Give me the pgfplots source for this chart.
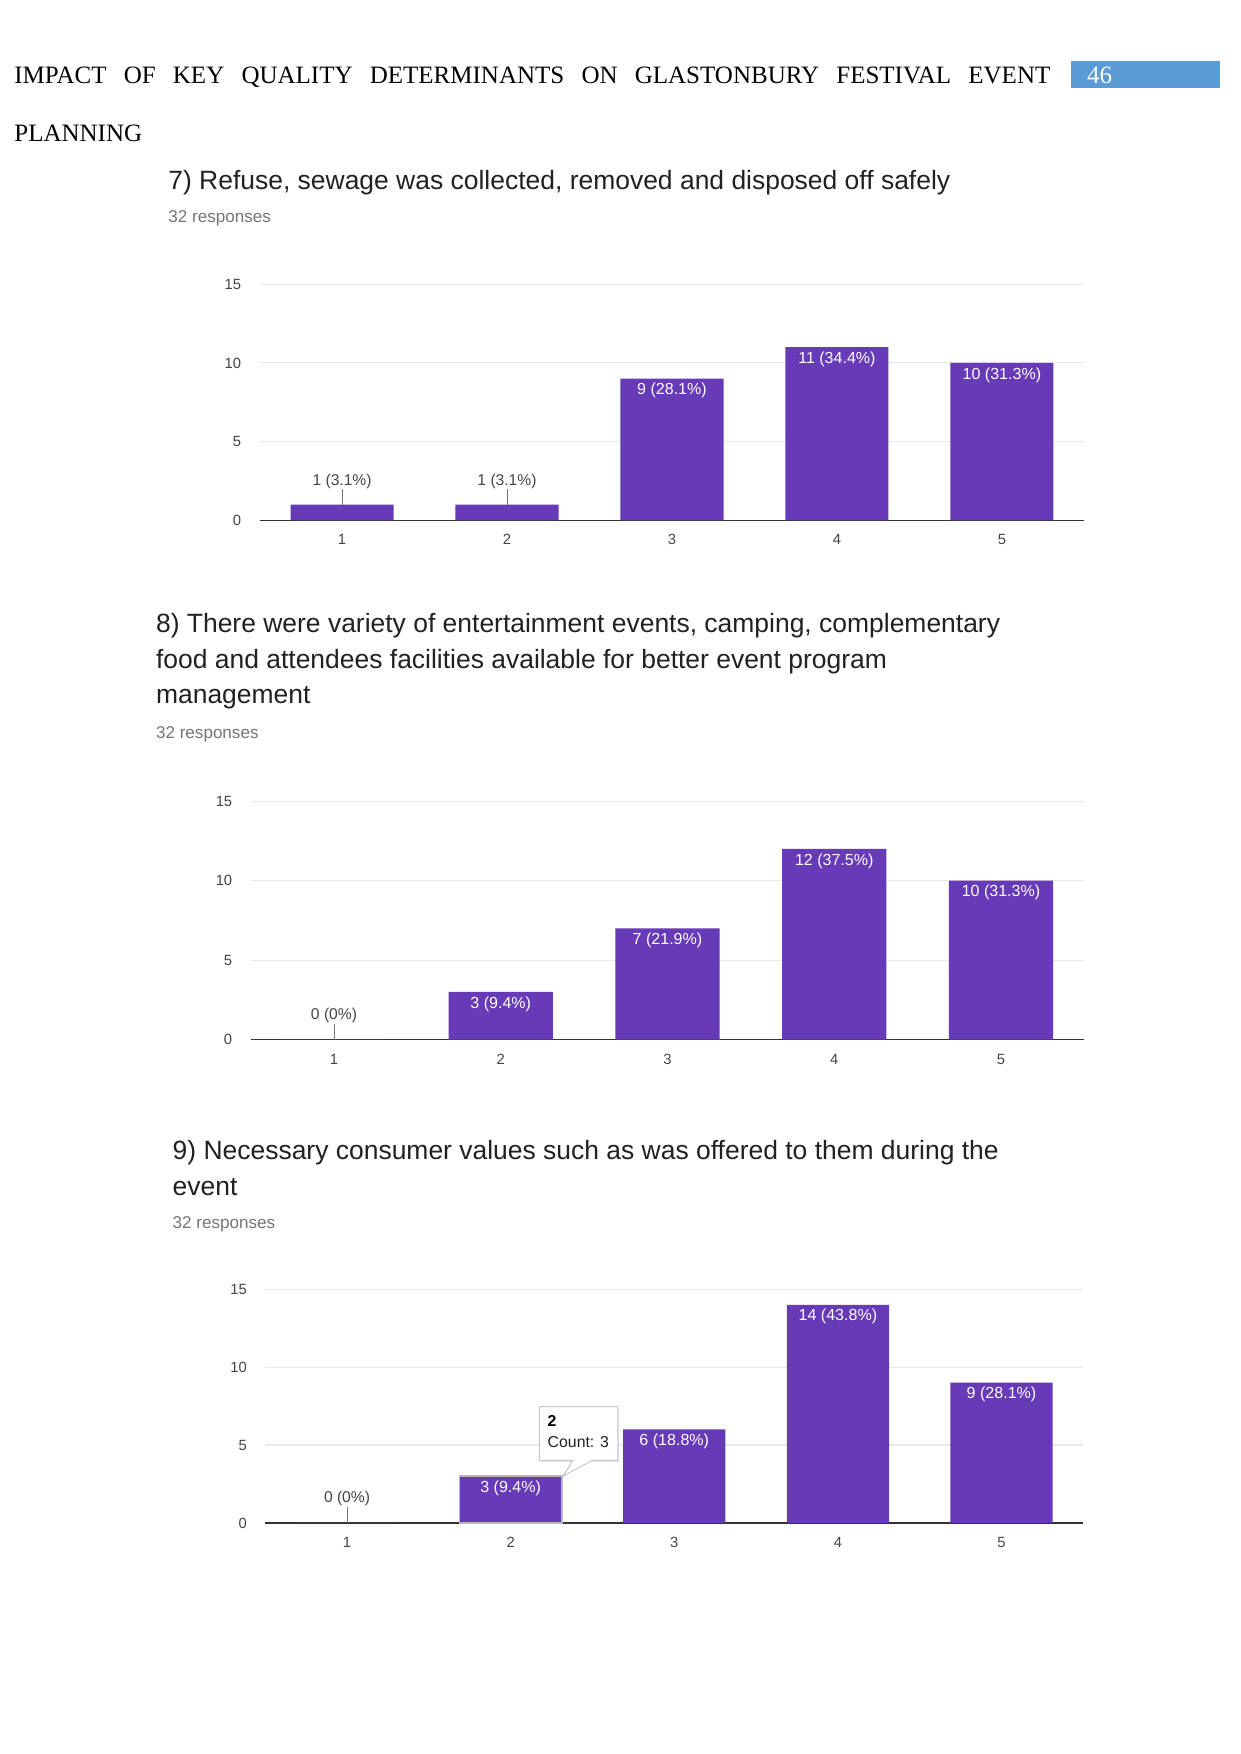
\documentclass[border=0pt]{standalone}
\usepackage{fontspec}
\setmainfont{Liberation Serif}
\newfontfamily\chartfont{Liberation Sans}
\usepackage{pgfplots}
\pgfplotsset{compat=1.18}
\definecolor{gfpurple}{HTML}{673AB7}
\definecolor{hdrblue}{HTML}{5B9BD5}
\definecolor{titlecol}{HTML}{212121}
\definecolor{subcol}{HTML}{757575}
\definecolor{tickcol}{HTML}{444444}
\pgfplotsset{
  gf/.style={
    scale only axis, clip=false,
    xmin=0.5, xmax=5.5, ymin=0, ymax=15,
    xtick={1,2,3,4,5}, ytick={0,5,10,15},
    major tick length=0pt,
    /pgf/number format/assume math mode=true,
    tick label style={font=\chartfont\fontsize{7.1}{8}\selectfont, text=tickcol},
    yticklabel style={xshift=-5.3pt},
    xticklabel style={yshift=-3.3pt},
    axis x line*=bottom, axis y line*=left,
    x axis line style={-, draw=black!80, line width=0.7pt},
    y axis line style={draw=none},
    ymajorgrids, grid style={draw=black!9, line width=0.5pt},
    ybar, bar width=0.625, bar shift=0pt,
  },
}
\tikzset{
  gfbar/.style={fill=gfpurple, draw=none},
  inlbl/.style={anchor=north, text=white, inner sep=2.0pt, font=\chartfont\fontsize{7.7}{9}\selectfont},
  outlbl/.style={text=tickcol, inner sep=1pt, font=\chartfont\fontsize{7.5}{9}\selectfont},
  ttl/.style={anchor=base west, inner sep=0pt, text=titlecol, font=\chartfont\fontsize{12.7}{15}\selectfont},
  sub/.style={anchor=base west, inner sep=0pt, text=subcol, font=\chartfont\fontsize{8.2}{10}\selectfont},
}
\begin{document}
\begin{tikzpicture}
\path[use as bounding box, fill=white] (0pt,0pt) rectangle (595.68pt,-841.92pt);
% header
\node[anchor=base west, inner sep=0pt, font=\fontsize{12}{14}\selectfont] at (6.7pt,-40.3pt)
  {\makebox[497.3pt][s]{IMPACT OF KEY QUALITY DETERMINANTS ON GLASTONBURY FESTIVAL EVENT}};
\fill[hdrblue] (514pt,-29.5pt) rectangle (585.6pt,-42.4pt);
\node[anchor=base west, inner sep=0pt, text=white, font=\fontsize{12}{14}\selectfont] at (521.6pt,-40.3pt) {46};
\node[anchor=base west, inner sep=0pt, font=\fontsize{12}{14}\selectfont] at (6.7pt,-68pt) {PLANNING};

% ---------- chart 7
\node[ttl] at (80.6pt,-90.8pt) {7) Refuse, sewage was collected, removed and disposed off safely};
\node[sub] at (80.6pt,-107pt) {32 responses};
\begin{axis}[gf, at={(124.6pt,-249.8pt)}, anchor=south west, width=395.9pt, height=113.4pt]
\addplot[gfbar] coordinates {(1,1) (2,1) (3,9) (4,11) (5,10)};
\draw[black!55, line width=0.4pt] (axis cs:1,1) -- (axis cs:1,2.0);
\node[outlbl] at (axis cs:1,2.5) {1 (3.1\%)};
\draw[black!55, line width=0.4pt] (axis cs:2,1) -- (axis cs:2,2.0);
\node[outlbl] at (axis cs:2,2.5) {1 (3.1\%)};
\node[inlbl] at (axis cs:3,9) {9 (28.1\%)};
\node[inlbl] at (axis cs:4,11) {11 (34.4\%)};
\node[inlbl] at (axis cs:5,10) {10 (31.3\%)};
\end{axis}

% ---------- chart 8
\node[ttl] at (74.7pt,-303.5pt) {8) There were variety of entertainment events, camping, complementary};
\node[ttl] at (74.7pt,-320.7pt) {food and attendees facilities available for better event program};
\node[ttl] at (74.7pt,-337.9pt) {management};
\node[sub] at (74.7pt,-354.5pt) {32 responses};
\begin{axis}[gf, at={(120.3pt,-499.0pt)}, anchor=south west, width=400.2pt, height=114.4pt]
\addplot[gfbar] coordinates {(1,0) (2,3) (3,7) (4,12) (5,10)};
\draw[black!55, line width=0.4pt] (axis cs:1,0) -- (axis cs:1,1.0);
\node[outlbl] at (axis cs:1,1.55) {0 (0\%)};
\node[inlbl] at (axis cs:2,3) {3 (9.4\%)};
\node[inlbl] at (axis cs:3,7) {7 (21.9\%)};
\node[inlbl] at (axis cs:4,12) {12 (37.5\%)};
\node[inlbl] at (axis cs:5,10) {10 (31.3\%)};
\end{axis}

% ---------- chart 9
\node[ttl] at (82.7pt,-556.5pt) {9) Necessary consumer values such as was offered to them during the};
\node[ttl] at (82.7pt,-573.7pt) {event};
\node[sub] at (82.7pt,-589.8pt) {32 responses};
\begin{axis}[gf, at={(127.3pt,-731.0pt)}, anchor=south west, width=392.7pt, height=112.2pt]
\addplot[gfbar] coordinates {(1,0) (3,6) (4,14) (5,9)};
\addplot[fill=gfpurple, draw=black!28, line width=0.9pt] coordinates {(2,3)};
\draw[black!55, line width=0.4pt] (axis cs:1,0) -- (axis cs:1,1.0);
\node[outlbl] at (axis cs:1,1.57) {0 (0\%)};
\node[inlbl] at (axis cs:2,3) {3 (9.4\%)};
\node[inlbl] at (axis cs:3,6) {6 (18.8\%)};
\node[inlbl] at (axis cs:4,14) {14 (43.8\%)};
\node[inlbl] at (axis cs:5,9) {9 (28.1\%)};
% tooltip
\fill[black!10] ([xshift=0.8pt,yshift=-0.8pt]axis cs:2.176,7.47) -- ([xshift=0.8pt,yshift=-0.8pt]axis cs:2.655,7.47)
  -- ([xshift=0.8pt,yshift=-0.8pt]axis cs:2.655,4.02) -- ([xshift=0.8pt,yshift=-0.8pt]axis cs:2.176,4.02) -- cycle;
\draw[black!22, fill=white, line width=0.5pt] (axis cs:2.176,7.47) -- (axis cs:2.655,7.47) -- (axis cs:2.655,4.02)
  -- (axis cs:2.50,4.02) -- (axis cs:2.32,3.0) -- (axis cs:2.38,4.02) -- (axis cs:2.176,4.02) -- cycle;
\node[anchor=west, inner sep=0pt, font=\chartfont\bfseries\fontsize{7.6}{9}\selectfont, text=black] at (axis cs:2.224,6.53) {2};
\node[anchor=west, inner sep=0pt, font=\chartfont\fontsize{7.6}{9}\selectfont, text=titlecol] at (axis cs:2.224,5.17) {Count: 3};
\end{axis}
\end{tikzpicture}
\end{document}
